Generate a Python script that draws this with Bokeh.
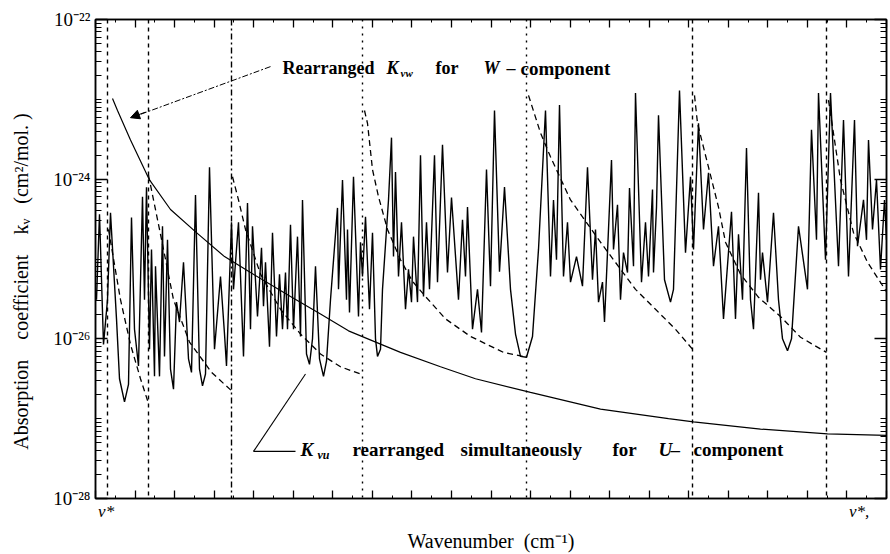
from bokeh.plotting import figure
from bokeh.models import (Range1d, FixedTicker, LinearAxis, LogAxis, Span, Label, Arrow, NormalHead,
                          CustomJSTickFormatter)
from bokeh.embed import file_html
from bokeh.resources import INLINE

FONT = "Liberation Serif"

# relative wavenumber position (0 = nu*, 791 = nu*') and log10 of the absorption coefficient
spec_x = [1, 4, 8, 12, 15, 21, 24, 29, 33, 36, 39, 43, 47, 49, 51, 54, 56, 59, 60, 64, 67, 69, 72, 75, 78,
          81, 84, 88, 93, 96, 100, 104, 107, 110, 114, 119, 125, 129, 131, 136, 138, 143, 148, 152, 155,
          157, 162, 166, 168, 170, 174, 177, 181, 184, 187, 190, 192, 195, 198, 202, 205, 207, 211, 214,
          217, 220, 224, 228, 231, 235, 242, 243, 247, 251, 252, 254, 258, 263, 265, 267, 270, 274, 277,
          280, 282, 285, 287, 293, 296, 298, 300, 303, 306, 310, 313, 316, 318, 322, 325, 328, 331, 334,
          339, 342, 347, 352, 356, 363, 367, 370, 372, 377, 382, 386, 391, 395, 399, 404, 409, 415, 420,
          425, 431, 437, 443, 450, 455, 458, 461, 464, 468, 472, 475, 481, 487, 492, 497, 500, 503, 507,
          509, 516, 518, 522, 525, 528, 532, 534, 538, 540, 546, 550, 553, 557, 558, 561, 563, 569, 575,
          578, 584, 590, 595, 598, 603, 608, 613, 618, 623, 628, 636, 640, 643, 647, 651, 655, 658, 663,
          665, 667, 672, 678, 683, 687, 692, 696, 703, 712, 716, 721, 723, 730, 735, 743, 748, 753, 759,
          762, 768, 771, 773, 777, 781, 785, 789, 791]
spec_logk = [-25.51, -24.44, -26.07, -25.51, -24.42, -25.75, -26.50, -26.79, -26.57, -24.48, -25.88, -26.34,
             -24.22, -25.51, -24.10, -26.13, -24.88, -26.47, -25.09, -26.47, -24.59, -26.22, -24.76, -26.38,
             -26.63, -25.54, -25.79, -25.04, -26.25, -26.42, -24.20, -26.38, -26.59, -26.44, -23.85, -26.13,
             -25.22, -25.94, -26.34, -24.54, -25.38, -24.54, -26.22, -24.30, -25.88, -24.59, -25.72, -24.86,
             -25.59, -25.04, -26.10, -24.67, -25.97, -25.19, -25.88, -25.17, -25.88, -24.57, -25.88, -24.72,
             -25.97, -24.26, -26.19, -26.32, -26.00, -25.09, -26.25, -26.47, -26.28, -25.51, -24.36, -25.38,
             -24.01, -25.51, -24.63, -25.67, -23.97, -25.72, -24.79, -25.22, -24.47, -25.63, -24.67, -26.00,
             -26.22, -26.13, -25.38, -24.26, -23.48, -24.97, -23.91, -25.22, -24.54, -25.63, -25.13, -25.54,
             -24.72, -25.54, -23.70, -25.47, -24.54, -25.38, -23.70, -25.29, -23.57, -25.17, -24.23, -25.51,
             -24.51, -25.22, -24.35, -25.88, -25.38, -25.92, -23.88, -25.34, -23.14, -25.16, -24.10, -25.38,
             -25.94, -26.22, -26.23, -25.97, -24.88, -23.14, -25.22, -24.26, -25.01, -23.07, -25.22, -24.54,
             -25.29, -24.97, -25.34, -23.85, -25.26, -24.63, -25.54, -25.29, -25.79, -23.76, -24.88, -24.32,
             -25.51, -24.92, -25.17, -24.11, -25.09, -22.92, -25.29, -24.54, -25.22, -24.13, -25.17, -24.35,
             -23.20, -25.26, -25.54, -25.38, -22.89, -24.92, -23.97, -24.88, -23.30, -24.63, -23.92, -25.09,
             -24.59, -25.75, -24.41, -25.75, -24.69, -25.51, -23.61, -25.51, -25.88, -24.17, -25.26, -24.92,
             -25.54, -24.42, -25.51, -26.00, -26.15, -26.00, -24.59, -25.38, -23.38, -24.76, -22.92, -25.01,
             -22.92, -25.09, -23.26, -25.22, -23.26, -24.84, -24.26, -24.76, -23.51, -24.63, -24.01, -25.13,
             -24.26, -24.76]

# band boundaries
band_edges = [12, 53, 136, 267, 431, 597, 731]

# rearranged K_vw for each band (monotone decreasing)
w1_x = [13, 25, 35, 45, 53]
w1_logk = [-24.63, -25.51, -26.07, -26.50, -26.81]
w2_x = [53, 65, 78, 94, 116, 136]
w2_logk = [-23.95, -24.69, -25.51, -26.04, -26.42, -26.65]
w3_x = [137, 143, 150, 165, 185, 205, 225, 245, 267]
w3_logk = [-23.97, -24.26, -24.63, -25.19, -25.63, -25.94, -26.19, -26.35, -26.45]
w4_x = [269, 272, 277, 283, 292, 305, 317, 330, 350, 375, 408, 431]
w4_logk = [-23.14, -23.30, -23.88, -24.22, -24.63, -25.01, -25.28, -25.47, -25.75, -25.97, -26.17, -26.23]
w5_x = [433, 445, 455, 475, 505, 540, 560, 580, 597]
w5_logk = [-22.95, -23.42, -23.72, -24.26, -24.79, -25.38, -25.63, -25.88, -26.13]
w6_x = [599, 602, 613, 623, 630, 645, 663, 685, 705, 731]
w6_logk = [-22.95, -23.30, -23.85, -24.35, -24.79, -25.19, -25.48, -25.72, -25.98, -26.17]
w7_x = [733, 745, 758, 772, 791]
w7_logk = [-23.01, -24.01, -24.67, -25.04, -25.41]

# K_vu rearranged simultaneously
u_x = [17, 22, 35, 54, 75, 101, 129, 155, 195, 225, 253, 305, 345, 380, 435, 505, 573, 598, 665, 732, 791]
u_logk = [-22.99, -23.14, -23.51, -24.01, -24.38, -24.67, -24.97, -25.17, -25.47, -25.69, -25.90, -26.17,
          -26.35, -26.50, -26.67, -26.88, -27.00, -27.04, -27.13, -27.19, -27.21]

y_major = [1e-28, 1e-26, 1e-24, 1e-22]
y_labels = ["10⁻²⁸", "10⁻²⁶", "10⁻²⁴", "10⁻²²"]
x_end_labels = ["\u00a0\u00a0\u00a0\u00a0\u00a0ν*", "ν*,\u00a0\u00a0\u00a0\u00a0\u00a0"]
NB = "\u00a0"
y_title = ("Absorption" + NB * 4 + "coefficient" + NB * 4 + "kᵥ" + NB * 3 + "(cm²/mol. )" + NB * 9)
x_title = "Wavenumber" + NB * 2 + "(cm⁻¹)"


def k(v):
    return 10 ** v


p = figure(width=890, height=554, x_range=Range1d(0, 791), y_range=Range1d(1e-28, 1e-22),
           y_axis_type="log", output_backend="svg", toolbar_location=None,
           min_border_left=95, min_border_right=4, min_border_top=19, min_border_bottom=54)
p.xgrid.visible = False
p.ygrid.visible = False
p.outline_line_color = "black"
p.outline_line_width = 1.5
p.background_fill_color = "white"
p.border_fill_color = "white"

bottom = p.below[0]
left = p.left[0]

xticks = [i * 791 / 20 for i in range(21)]
xminor = [(i + 0.5) * 791 / 20 for i in range(20)]
yminor = [m * 10 ** e for e in range(-28, -22) for m in range(1, 10)]

bottom.ticker = FixedTicker(ticks=xticks, minor_ticks=xminor)
bottom.formatter = CustomJSTickFormatter(code="return ' ';")
bottom.major_label_overrides = {xticks[0]: x_end_labels[0], xticks[-1]: x_end_labels[1]}
left.ticker = FixedTicker(ticks=y_major, minor_ticks=yminor)
left.major_label_overrides = {v: s for v, s in zip(y_major, y_labels)}

top = LinearAxis(ticker=FixedTicker(ticks=xticks, minor_ticks=xminor),
                 formatter=CustomJSTickFormatter(code="return ' ';"))
right = LogAxis(ticker=FixedTicker(ticks=y_major, minor_ticks=yminor),
                formatter=CustomJSTickFormatter(code="return ' ';"))
p.add_layout(top, "above")
p.add_layout(right, "right")

for ax in [bottom, top, left, right]:
    ax.axis_line_color = "black"
    ax.major_tick_line_color = "black"
    ax.minor_tick_line_color = "black"
    ax.major_label_text_color = "black"
    ax.axis_label_text_color = "black"

for ax in [bottom, top]:
    ax.major_tick_in = 8
    ax.major_tick_out = 0
    ax.minor_tick_in = 3
    ax.minor_tick_out = 0
    ax.axis_line_width = 1.5
    ax.major_tick_line_width = 1.3
top.major_label_standoff = 0
top.major_label_text_font_size = "4px"
bottom.major_label_standoff = 3
bottom.major_label_text_font = FONT
bottom.major_label_text_font_size = "17px"
bottom.major_label_text_font_style = "italic"
bottom.axis_label = x_title
bottom.axis_label_text_font = FONT
bottom.axis_label_text_font_size = "20px"
bottom.axis_label_text_font_style = "normal"
bottom.axis_label_standoff = 6

for ax in [left, right]:
    ax.major_tick_in = 12
    ax.major_tick_out = 0
    ax.minor_tick_in = 6
    ax.minor_tick_out = 0
    ax.axis_line_width = 1.5
    ax.major_tick_line_width = 1.3
right.major_label_standoff = 0
right.major_label_text_font_size = "4px"
left.major_label_text_font = FONT
left.major_label_text_font_size = "19px"
left.major_label_standoff = 5
left.axis_label = y_title
left.axis_label_text_font = FONT
left.axis_label_text_font_size = "20px"
left.axis_label_text_font_style = "normal"
left.axis_label_standoff = 18

# band boundaries
edge_dash = {12: "4 4", 53: "4 4", 136: "6 3 2 3", 267: "2 5", 431: "2 5", 597: "4 4", 731: "4 4"}
for e in band_edges:
    p.add_layout(Span(location=e, dimension="height", line_color="black",
                      line_width=1.4, line_dash=edge_dash[e]))

# spectrum
p.line(spec_x, [k(v) for v in spec_logk], line_color="black", line_width=1.4)

# rearranged W curves
for xs, ls in [(w1_x, w1_logk), (w2_x, w2_logk), (w3_x, w3_logk), (w4_x, w4_logk),
               (w5_x, w5_logk), (w6_x, w6_logk), (w7_x, w7_logk)]:
    p.line(xs, [k(v) for v in ls], line_color="black", line_width=1.3, line_dash="6 4")

# U curve
p.line(u_x, [k(v) for v in u_logk], line_color="black", line_width=1.2)

# leaders
p.line([175, 38], [k(-22.59), k(-23.22)], line_color="black", line_width=1, line_dash="6 2 2 2")
p.add_layout(Arrow(end=NormalHead(size=9, line_color="black", fill_color="black"),
                   x_start=50, y_start=k(-23.16), x_end=35, y_end=k(-23.23),
                   line_color="black", line_width=1))
p.line([158, 200], [k(-27.41), k(-27.41)], line_color="black", line_width=1.1)
p.line([158, 210], [k(-27.41), k(-26.44)], line_color="black", line_width=1.1)


def lab(x, L, text, size="18px", style="bold", align="left"):
    p.add_layout(Label(x=x, y=k(L), text=text, text_font=FONT, text_font_size=size,
                       text_font_style=style, text_align=align, text_baseline="middle",
                       text_color="black"))


# upper annotation
lab(187, -22.61, "Rearranged")
lab(291, -22.61, "K", style="bold italic")
lab(305, -22.67, "νw", size="11px", style="bold italic")
lab(340, -22.61, "for")
lab(388, -22.61, "W", style="bold italic")
lab(411, -22.61, "–")
lab(425, -22.61, "component", size="19px")

# lower annotation
lab(205, -27.39, "K", size="19px", style="bold italic")
lab(222, -27.46, "νu", size="12px", style="bold italic")
lab(257, -27.39, "rearranged", size="19px")
lab(365, -27.39, "simultaneously", size="19px")
lab(517, -27.39, "for", size="19px")
lab(563, -27.39, "U", size="19px", style="bold italic")
lab(575, -27.39, "–", size="19px")
lab(598, -27.39, "component", size="19px")

open("out.html", "w").write(file_html(p, INLINE))
